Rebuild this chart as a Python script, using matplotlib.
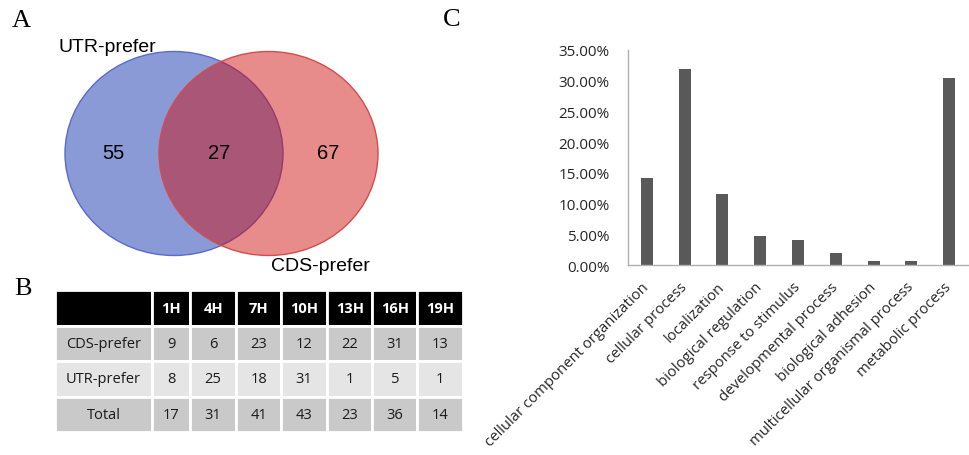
import matplotlib
matplotlib.use("Agg")
import matplotlib.pyplot as plt
from matplotlib.patches import Ellipse
from matplotlib.ticker import PercentFormatter

W, H = 969, 456

# ---- Panel A: Venn counts ----
venn_sets = ["UTR-prefer", "CDS-prefer"]
venn_only_utr = 55
venn_shared = 27
venn_only_cds = 67

# ---- Panel B: table ----
table_cols = ["1H", "4H", "7H", "10H", "13H", "16H", "19H"]
table_rows = ["CDS-prefer", "UTR-prefer", "Total"]
cds_counts = [9, 6, 23, 12, 22, 31, 13]
utr_counts = [8, 25, 18, 31, 1, 5, 1]
total_counts = [17, 31, 41, 43, 23, 36, 14]

# ---- Panel C: GO categories ----
go_terms = ["cellular component organization", "cellular process", "localization",
            "biological regulation", "response to stimulus", "developmental process",
            "biological adhesion", "multicellular organismal process", "metabolic process"]
go_share = [0.142, 0.319, 0.116, 0.047, 0.041, 0.0195, 0.006, 0.006, 0.305]

fig = plt.figure(figsize=(W / 100, H / 100), dpi=100)


def px_axes(x0, y0, x1, y1):
    """Axes placed by pixel box (left, top, right, bottom)."""
    return fig.add_axes([x0 / W, 1 - y1 / H, (x1 - x0) / W, (y1 - y0) / H])


# Panel letters
serif = "Liberation Serif"
fig.text(12 / W, 1 - 21 / H, "A", fontsize=19, family=serif, va="center", ha="left")
fig.text(14 / W, 1 - 289 / H, "B", fontsize=19, family=serif, va="center", ha="left")
fig.text(443 / W, 1 - 20 / H, "C", fontsize=19, family=serif, va="center", ha="left")

# ---- Venn ----
ax_v = px_axes(40, 30, 400, 280)
ax_v.set_xlim(40, 400)
ax_v.set_ylim(280, 30)
ax_v.axis("off")
blue = (0.03, 0.16, 0.67)
red = (0.81, 0.04, 0.04)
ax_v.add_patch(Ellipse((174, 154.5), 218, 204, facecolor=blue, alpha=0.47,
                       edgecolor="none"))
ax_v.add_patch(Ellipse((174, 154.5), 218, 204, facecolor="none",
                       edgecolor=(0.35, 0.42, 0.78), lw=1.0))
ax_v.add_patch(Ellipse((268.5, 154.5), 219, 204, facecolor=red, alpha=0.47,
                       edgecolor="none"))
ax_v.add_patch(Ellipse((268.5, 154.5), 219, 204, facecolor="none",
                       edgecolor=(0.82, 0.3, 0.3), lw=1.0))
sans = "Liberation Sans"
ax_v.text(113, 154, str(venn_only_utr), fontsize=14.5, family=sans, ha="center", va="center")
ax_v.text(219, 154, str(venn_shared), fontsize=14.5, family=sans, ha="center", va="center")
ax_v.text(328, 154, str(venn_only_cds), fontsize=14.5, family=sans, ha="center", va="center")
ax_v.text(58, 48, venn_sets[0], fontsize=14, family=sans, ha="left", va="center")
ax_v.text(271, 267, venn_sets[1], fontsize=14, family=sans, ha="left", va="center")

# ---- Table ----
ax_t = px_axes(55, 291, 463, 433)
ax_t.axis("off")
cell_text = [[str(v) for v in row] for row in (cds_counts, utr_counts, total_counts)]
header = [""] + table_cols
body = [[name] + vals for name, vals in zip(table_rows, cell_text)]
col_w = [96.7, 38.5, 45.5, 45.5, 45.5, 45.5, 45, 45.5]
tot_w = sum(col_w)
tbl = ax_t.table(cellText=[header] + body, colWidths=[w / tot_w for w in col_w],
                 bbox=[0, 0, 1, 1], cellLoc="center")
tbl.auto_set_font_size(False)
row_fill = ["black", "#c9c9c9", "#e5e5e5", "#c9c9c9"]
for (r, c), cell in tbl.get_celld().items():
    cell.set_edgecolor("white")
    cell.set_linewidth(2.0)
    cell.set_facecolor(row_fill[r])
    txt = cell.get_text()
    txt.set_fontfamily("Open Sans")
    txt.set_fontsize(10.5)
    if r == 0:
        txt.set_color("white")
        txt.set_fontweight("bold")
    else:
        txt.set_color("#1a1a1a")

# ---- Bar chart ----
ax_b = px_axes(628, 51, 968, 266)
x = range(len(go_terms))
ax_b.bar(x, go_share, width=0.32, color="#595959")
ax_b.set_xlim(-0.5, len(go_terms) - 0.5)
ax_b.set_ylim(0, 0.35)
ax_b.set_yticks([i * 0.05 for i in range(8)])
ax_b.yaxis.set_major_formatter(PercentFormatter(1.0, decimals=2))
ax_b.set_xticks(list(x))
ax_b.set_xticklabels(go_terms, rotation=45, ha="right", va="center",
                     rotation_mode="anchor")
for side in ("top", "right"):
    ax_b.spines[side].set_visible(False)
for side in ("left", "bottom"):
    ax_b.spines[side].set_color("#b0b0b0")
    ax_b.spines[side].set_linewidth(1.0)
ax_b.tick_params(axis="both", length=0, labelcolor="#262626")
ax_b.tick_params(axis="y", pad=13, labelsize=11)
ax_b.tick_params(axis="x", pad=14, labelsize=10.7)
for lbl in ax_b.get_xticklabels() + ax_b.get_yticklabels():
    lbl.set_fontfamily("Open Sans")

fig.savefig("out.png", dpi=100)
